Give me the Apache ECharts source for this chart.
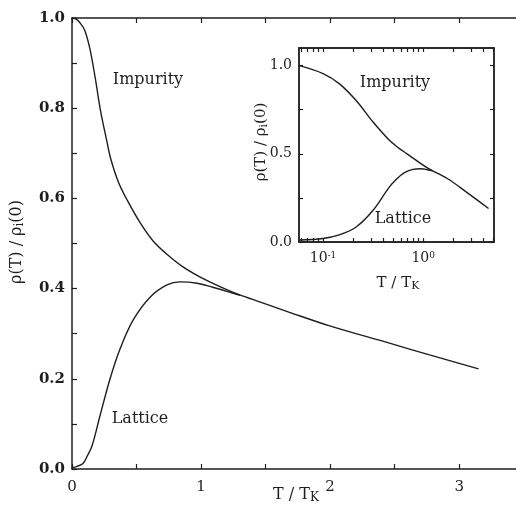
<!DOCTYPE html>
<html>
<head>
<meta charset="utf-8">
<script src="https://cdn.jsdelivr.net/npm/echarts@6/dist/echarts.min.js"></script>
<style>
html, body { margin: 0; padding: 0; background: #fff; }
#myChart { width: 516px; height: 516px; }
</style>
</head>
<body>
<div id="myChart"></div>
<script>
// main panel, linear T / T_K
var impurityT   = [0, 0.03, 0.06, 0.1, 0.14, 0.18, 0.22, 0.27, 0.3, 0.36, 0.43, 0.53, 0.63, 0.74, 0.86, 0.99, 1.15, 1.3, 1.46, 1.68, 1.99, 2.46, 2.77, 3.15];
var impurityRho = [1.0, 0.998, 0.99, 0.972, 0.93, 0.867, 0.796, 0.727, 0.688, 0.636, 0.595, 0.545, 0.505, 0.475, 0.448, 0.426, 0.404, 0.386, 0.37, 0.348, 0.318, 0.279, 0.253, 0.222];
var latticeT    = [0, 0.04, 0.085, 0.12, 0.155, 0.217, 0.295, 0.372, 0.473, 0.605, 0.736, 0.837, 0.97, 1.09, 1.2, 1.3];
var latticeRho  = [0.003, 0.006, 0.012, 0.03, 0.051, 0.118, 0.2, 0.266, 0.33, 0.381, 0.408, 0.415, 0.412, 0.403, 0.394, 0.385];

// inset, log T / T_K
var insetImpurityT   = [0.058, 0.1, 0.145, 0.214, 0.316, 0.457, 0.56, 0.69, 1.1, 1.74, 2.75, 4.5];
var insetImpurityRho = [1.0, 0.955, 0.898, 0.802, 0.68, 0.578, 0.536, 0.5, 0.42, 0.36, 0.28, 0.19];
var insetLatticeT    = [0.058, 0.1, 0.145, 0.214, 0.316, 0.457, 0.55, 0.65, 0.79, 0.95, 1.1, 1.25];
var insetLatticeRho  = [0.011, 0.02, 0.04, 0.085, 0.18, 0.31, 0.36, 0.393, 0.412, 0.415, 0.41, 0.403];

// ticks and labels
var mainXLabels  = [0, 1, 2, 3];
var mainXTicks   = [0, 0.5, 1, 1.5, 2, 2.5, 3];
var mainYLabels  = [0, 0.2, 0.4, 0.6, 0.8, 1.0];
var mainYTicks   = [0, 0.1, 0.2, 0.3, 0.4, 0.5, 0.6, 0.7, 0.8, 0.9, 1.0];
var insetXLabels = [0.1, 1];
var insetXTicks  = [0.06, 0.07, 0.08, 0.09, 0.1, 0.2, 0.3, 0.4, 0.5, 0.6, 0.7, 0.8, 0.9, 1, 2, 3, 4, 5];
var insetYLabels = [0, 0.5, 1.0];
var insetYTicks  = [0, 0.25, 0.5, 0.75, 1.0];

var ink = '#1e1e1e';
var serif = 'DejaVu Serif';

function pairs(xs, ys, fx) {
    return xs.map(function (x, i) { return [fx ? fx(x) : x, ys[i]]; });
}
function lg(v) { return Math.log10(v); }

var axisLine = { show: true, onZero: false, lineStyle: { color: ink, width: 1.5 } };
function ticks(vals, len) {
    return { show: true, inside: true, length: len, customValues: vals, lineStyle: { color: ink, width: 1.2 } };
}
function lineSeries(data, x, y) {
    return {
        type: 'line', xAxisIndex: x, yAxisIndex: y, data: data,
        showSymbol: false, smooth: 0.35,
        lineStyle: { color: ink, width: 1.4 }, silent: true
    };
}
function txt(x, y, text, size, rot) {
    return {
        type: 'text', x: x, y: y, rotation: rot || 0,
        style: {
            text: text, fill: ink, font: size + 'px "' + serif + '"',
            align: 'center', verticalAlign: 'middle',
            rich: { sub: { fontSize: size - 4, fontFamily: serif, fill: ink, verticalAlign: 'bottom', padding: [6, 0, 0, 0] } }
        }
    };
}

var myChart = echarts.init(document.getElementById('myChart'));
var option = {
    backgroundColor: '#fff',
    animation: false,
    grid: [
        { left: 72, top: 18, right: 0, bottom: 47 },
        { left: 299, top: 48, width: 195, height: 194, show: true, backgroundColor: '#fff', borderColor: ink, borderWidth: 1.3 }
    ],
    xAxis: [
        {
            gridIndex: 0, type: 'value', min: 0, max: 3.44, axisLine: axisLine,
            axisTick: ticks(mainXTicks, 5), splitLine: { show: false },
            axisLabel: { customValues: mainXLabels, margin: 11, color: ink, fontSize: 15, fontFamily: serif }
        },
        {
            gridIndex: 0, type: 'value', position: 'top', min: 0, max: 3.44, axisLine: axisLine,
            axisTick: ticks(mainXTicks, 5), splitLine: { show: false }, axisLabel: { show: false }
        },
        {
            gridIndex: 1, type: 'value', min: lg(0.0575), max: lg(5.1), axisLine: axisLine,
            axisTick: ticks(insetXTicks.map(lg), 4), splitLine: { show: false },
            axisLabel: {
                customValues: insetXLabels.map(lg), margin: 9, color: ink, fontSize: 14, fontFamily: serif,
                formatter: function (v) { return '10{sup|' + Math.round(v) + '}'; },
                rich: { sup: { fontSize: 9, fontFamily: serif, color: ink, verticalAlign: 'top', padding: [0, 0, 6, 0] } }
            }
        },
        {
            gridIndex: 1, type: 'value', position: 'top', min: lg(0.0575), max: lg(5.1), axisLine: axisLine,
            axisTick: ticks(insetXTicks.map(lg), 4), splitLine: { show: false }, axisLabel: { show: false }
        }
    ],
    yAxis: [
        {
            gridIndex: 0, type: 'value', min: 0, max: 1, axisLine: axisLine,
            axisTick: ticks(mainYTicks, 5), splitLine: { show: false },
            axisLabel: {
                customValues: mainYLabels, margin: 7, color: ink, fontSize: 15, fontWeight: 'bold', fontFamily: serif,
                formatter: function (v) { return v.toFixed(1); }
            }
        },
        {
            gridIndex: 1, type: 'value', min: 0, max: 1.1, axisLine: axisLine,
            axisTick: ticks(insetYTicks, 4), splitLine: { show: false },
            axisLabel: {
                customValues: insetYLabels, margin: 7, color: ink, fontSize: 14, fontFamily: serif,
                formatter: function (v) { return v.toFixed(1); }
            }
        },
        {
            gridIndex: 1, type: 'value', position: 'right', min: 0, max: 1.1, axisLine: axisLine,
            axisTick: ticks(insetYTicks, 4), splitLine: { show: false }, axisLabel: { show: false }
        }
    ],
    series: [
        lineSeries(pairs(impurityT, impurityRho), 0, 0),
        lineSeries(pairs(latticeT, latticeRho), 0, 0),
        lineSeries(pairs(insetImpurityT, insetImpurityRho, lg), 2, 1),
        lineSeries(pairs(insetLatticeT, insetLatticeRho, lg), 2, 1)
    ],
    graphic: [
        txt(148, 80, 'Impurity', 16),
        txt(140, 419, 'Lattice', 16),
        txt(395, 83, 'Impurity', 16),
        txt(403, 219, 'Lattice', 16),
        txt(296, 495, 'T / T{sub|K}', 16),
        txt(398, 283, 'T / T{sub|K}', 15),
        txt(17, 242, 'ρ(T) / ρ{sub|i}(0)', 16, Math.PI / 2),
        txt(261, 142, 'ρ(T) / ρ{sub|i}(0)', 15, Math.PI / 2)
    ]
};
myChart.setOption(option);
</script>
</body>
</html>
